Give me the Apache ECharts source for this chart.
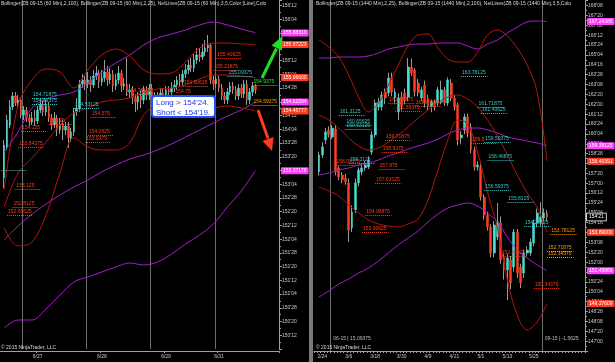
<!DOCTYPE html>
<html><head><meta charset="utf-8">
<script src="https://cdn.jsdelivr.net/npm/echarts@6/dist/echarts.min.js"></script>
<style>html,body{margin:0;padding:0;background:#000}#c{width:615px;height:362px}</style>
</head><body><div id="c"></div>
<script>
// ---------- LEFT PANEL (60 Min) ----------
const leftDateIdx = [13, 36, 59, 78];
const leftDateText = ['6/27', '6/28', '6/29', '6/31'];
const leftSessionIdx = [8, 31, 54, 77];
const leftOpen = [153.239,153.803,154.203,154.531,154.731,154.604,154.659,154.385,154.477,154.331,
154.258,154.331,154.276,154.477,154.586,154.440,154.549,154.331,154.203,154.331,
154.112,154.222,154.112,154.185,153.967,154.076,154.440,154.513,154.950,155.023,
154.950,155.023,154.932,155.095,155.150,154.986,155.059,155.168,155.023,155.132,
154.913,155.023,155.150,154.913,154.950,154.804,154.841,154.695,154.622,154.731,
154.659,154.841,154.749,154.877,154.713,154.622,154.731,154.786,154.713,154.841,
154.804,154.877,154.932,155.023,154.986,155.132,155.205,155.296,155.241,155.387,
155.478,155.441,155.532,155.605,155.660,155.023,154.950,155.041,154.877,154.731,
154.659,154.804,154.913,154.841,154.731,154.877,154.768,154.950,154.659,154.804,
154.913];
const leftClose = [153.839,154.294,154.531,154.731,154.604,154.659,154.385,154.477,154.331,154.258,
154.331,154.276,154.477,154.586,154.440,154.549,154.331,154.203,154.331,154.112,
154.222,154.112,154.185,153.967,154.076,154.440,154.513,154.950,155.023,154.950,
155.023,154.932,155.095,155.150,154.986,155.059,155.168,155.023,155.132,154.913,
155.023,155.150,154.913,154.950,154.804,154.841,154.695,154.622,154.731,154.659,
154.841,154.749,154.877,154.713,154.622,154.731,154.786,154.713,154.841,154.804,
154.877,154.932,155.023,154.986,155.132,155.205,155.296,155.241,155.387,155.478,
155.441,155.532,155.605,155.660,155.023,154.950,155.041,154.877,154.731,154.659,
154.804,154.913,154.841,154.731,154.877,154.768,154.950,154.659,154.804,154.913,
154.841];
const leftLow = [153.056,153.748,154.149,154.477,154.549,154.513,154.331,154.294,154.258,154.185,
154.203,154.185,154.222,154.422,154.367,154.367,154.258,154.112,154.149,154.003,
154.040,153.930,154.021,153.785,153.894,154.003,154.367,154.440,154.877,154.841,
154.877,154.804,154.877,155.023,154.877,154.913,154.986,154.913,154.950,154.804,
154.841,154.950,154.804,154.841,154.731,154.695,154.586,154.440,154.477,154.513,
154.586,154.659,154.659,154.622,154.513,154.549,154.659,154.622,154.659,154.731,
154.731,154.804,154.841,154.913,154.913,155.059,155.132,155.168,155.168,155.314,
155.350,155.387,155.460,155.532,154.950,154.841,154.877,154.804,154.659,154.586,
154.586,154.749,154.768,154.659,154.659,154.695,154.695,154.568,154.586,154.731,
154.768];
const leftHigh = [153.930,154.385,154.659,154.804,154.804,154.749,154.713,154.549,154.531,154.404,
154.440,154.477,154.549,154.695,154.659,154.659,154.622,154.404,154.440,154.385,
154.331,154.294,154.258,154.258,154.149,154.513,154.695,155.023,155.132,155.095,
155.168,155.095,155.205,155.278,155.205,155.205,155.387,155.278,155.241,155.205,
155.132,155.278,155.205,155.059,155.423,154.950,154.913,154.768,154.804,154.841,
154.913,154.913,154.950,154.950,154.804,154.804,154.877,154.877,154.913,154.913,
154.986,155.023,155.095,155.132,155.205,155.314,155.387,155.423,155.496,155.605,
155.605,155.678,155.750,155.842,155.696,155.095,155.132,155.095,154.950,154.804,
154.877,154.986,154.986,154.913,154.950,154.950,155.023,155.023,154.877,154.986,
154.950];
const leftBandIdx = [1,6,11,16,21,26,31,36,41,46,51,56,61,66,71,76,81,86,91];
const leftRedUpper = [153.020,154.567,155.023,155.223,155.168,154.877,155.205,155.478,155.587,155.460,155.205,155.132,155.150,155.350,155.605,155.696,155.696,155.678,155.672];
const leftRedMid = [152.711,153.330,153.603,153.894,154.203,154.422,154.513,154.622,154.659,154.695,154.804,154.859,154.877,154.932,155.041,155.114,155.114,155.095,155.066];
const leftRedLower = [152.328,152.001,152.073,152.565,153.330,153.967,153.803,153.748,153.748,153.876,154.385,154.567,154.586,154.513,154.477,154.513,154.549,154.513,154.458];
const leftPurpleUpper = [153.712,154.076,154.513,154.677,154.749,154.804,154.968,155.168,155.332,155.478,155.660,155.787,155.860,155.933,156.024,156.078,156.024,155.951,155.883];
const leftPurpleMid = [152.110,152.365,152.583,152.765,152.929,153.075,153.202,153.348,153.475,153.584,153.657,153.748,153.858,153.985,154.112,154.240,154.367,154.477,154.616];
const leftPurpleLower = [150.508,150.653,150.653,150.854,151.109,151.345,151.436,151.527,151.618,151.691,151.655,151.709,151.855,152.037,152.201,152.401,152.711,153.002,153.372];
const leftNetIdx = [11,11,26,7,17,32,31,30,6,5,4,2,45,65,62,77,76,81,90,90,0];
const leftNetPrice = [154.695,154.586,154.513,154.094,154.222,154.349,154.021,153.894,153.803,153.038,152.711,152.565,154.768,154.913,154.749,155.423,155.205,155.095,154.932,154.567,153.384];
const leftNetText = ['154.71875','154.59375','154.53125','154.125','154.25','154.375','154.0625','153.9375','153.84375','153.125','152.8125','152.65625','154.78125','154.90625','154.75','155.40625','155.21875','155.09375','154.9375','154.59375',''];
const leftNetColor = ['c','c','c','r','r','r','r','r','r','r','r','r','r','r','r','r','r','c','g','o','c'];
const leftTagValues = [155.88310,155.67223,155.06600,154.61594,154.45777,153.37178];
const leftTagColors = ['m','r','r','m','r','m'];

// ---------- RIGHT PANEL (1440 Min) ----------
const rightDateIdx = [2,10,18,26,34,42,50,58,66];
const rightDateText = ['2/24','3/6','3/18','3/30','4/9','4/21','5/1','5/13','5/25'];
const rightRollIdx = [5, 69];
const rightRollText = ['06-15 | 15.09375', '09-15 | -1.5625'];
const rightRollPrice = [147.14, 147.14];
const rightOpen = [157.71,158.80,159.74,160.37,159.93,160.44,157.97,157.52,157.33,157.02,
154.17,155.31,157.02,157.71,157.97,158.03,158.98,160.06,161.83,161.83,
162.78,162.72,163.67,162.40,161.51,162.46,162.72,162.46,164.36,164.17,
163.35,162.40,163.22,162.40,161.83,162.14,162.08,162.14,162.91,162.08,
163.35,162.40,161.96,159.87,160.37,161.20,160.56,159.11,158.03,158.03,
156.13,154.99,154.23,152.58,153.60,154.48,152.33,151.51,152.14,151.70,
153.91,151.70,151.32,152.58,152.58,153.22,154.48,154.55,154.80,155.12];
const rightClose = [158.79,159.30,160.25,160.06,160.50,157.71,157.40,157.21,157.08,154.04,
155.18,157.02,157.84,157.97,158.16,158.47,160.06,162.08,162.14,162.59,
162.40,163.67,162.78,162.78,162.40,161.96,162.27,164.36,163.98,162.78,
162.72,162.91,162.08,161.83,162.14,161.83,162.91,162.91,162.08,163.54,
162.40,161.83,159.74,160.06,161.20,160.18,159.11,158.03,158.16,156.13,
154.99,154.23,152.58,154.36,154.55,152.14,151.51,152.27,150.68,153.91,
151.32,150.68,152.58,152.77,153.28,154.48,155.12,154.86,155.12,154.86];
const rightLow = [157.50,158.60,159.50,159.90,159.80,157.50,157.20,157.00,156.90,153.28,
153.90,155.10,156.80,157.50,157.80,157.90,158.80,159.90,161.60,161.60,
162.00,162.50,162.50,162.00,161.00,161.60,162.00,162.20,163.80,162.50,
162.50,162.20,161.80,161.60,161.50,161.60,161.90,162.00,161.90,161.90,
162.20,161.60,159.40,159.50,160.10,159.90,158.90,157.80,157.80,155.90,
154.70,154.00,152.30,152.30,153.40,151.90,150.90,149.60,150.30,151.40,
151.00,150.36,151.00,152.40,152.40,153.00,154.20,154.30,154.50,154.60];
const rightHigh = [159.00,159.60,160.50,160.60,160.70,160.70,158.10,157.70,157.60,157.30,
155.60,157.30,158.00,158.20,158.40,158.70,160.30,162.30,162.40,162.80,
163.00,164.00,164.00,163.00,162.70,162.80,163.00,164.93,164.90,164.30,
163.60,163.10,163.50,162.60,162.30,162.30,163.10,163.50,163.10,163.70,
163.60,162.60,162.10,160.30,161.40,161.40,160.80,159.30,158.40,158.30,
156.30,155.20,154.40,154.60,155.75,154.90,152.50,152.50,152.40,154.10,
154.10,151.90,152.80,153.00,153.50,154.70,155.40,155.80,155.40,155.30];
const rightBandIdx = [1,4,7,10,13,16,19,22,25,28,31,34,37,40,43,46,49,52,55,58,61,64,67,70];
const rightRedUpper = [166.072,165.628,164.995,163.855,162.462,161.512,162.082,163.222,164.489,165.692,166.388,166.452,165.565,164.868,164.678,164.678,165.312,166.388,166.705,166.325,165.565,164.489,162.779,158.404];
const rightRedMid = [161.322,161.005,160.499,159.865,159.359,159.106,159.232,159.612,160.055,160.562,161.132,161.639,162.082,162.462,162.589,162.335,161.829,161.005,159.992,158.789,157.522,156.382,155.494,153.890];
const rightRedLower = [156.762,156.508,156.192,155.622,155.116,154.672,154.419,154.292,154.229,154.419,154.736,155.939,157.839,159.739,161.005,160.752,158.979,156.446,154.165,150.873,148.656,147.706,148.212,149.376];
const rightPurpleUpper = [164.932,164.932,164.995,164.995,164.995,165.058,165.248,165.502,165.628,165.755,165.818,165.818,165.882,165.882,165.882,165.692,165.502,165.818,166.072,166.515,166.895,167.212,167.275,167.244];
const rightPurpleMid = [157.522,157.649,157.839,157.965,158.155,158.282,158.472,158.725,158.916,159.169,159.359,159.549,159.802,160.119,160.372,160.499,160.499,160.372,160.182,159.929,159.802,159.675,159.549,159.381];
const rightPurpleLower = [149.796,150.176,150.619,150.936,151.316,151.632,152.075,152.582,153.089,153.532,153.975,154.546,155.052,155.431,155.622,155.749,155.559,155.116,154.546,153.595,152.772,152.265,151.822,151.459];
const rightNetIdx = [44,49,50,7,9,9,21,20,19,10,6,18,15,14,47,51,52,51,58,63,56,66,71,70,70,22,24,30];
const rightNetPrice = [163.792,161.829,161.449,161.322,160.689,160.436,159.739,158.979,157.902,158.282,158.155,157.016,154.989,153.912,159.549,159.612,158.472,156.572,155.812,154.292,152.392,150.366,153.786,152.709,152.329,162.082,161.575,161.892];
const rightNetText = ['163.78125','161.71875','161.40625','161.3125','160.65625','160.53125','159.71875','158.9375','157.875','158.3125','158.09375','157.03125','154.96875','153.90625','159.5','159.59375','158.46875','156.59375','155.8125','154.28125','152.40625','150.34375','153.78125','152.71875','152.34375','162.09375','161.59375','161.84375'];
const rightNetColor = ['c','c','c','c','c','c','r','r','r','c','r','r','r','r','r','c','c','c','c','c','r','r','o','o','o','r','r','r'];
const rightTagValues = [167.24385,159.38125,158.40391,153.89000,151.45866,149.37609];
const rightTagColors = ['m','m','r','r','m','r'];
const rightLastText = "154'21";

const leftHeader = 'Bollinger(ZB 09-15 (60 Min),2,100), Bollinger(ZB 09-15 (60 Min),2,25), NetLines(ZB 09-15 (60 Min),3,5,Color [Line],Colo';
const rightHeader = 'Bollinger(ZB 09-15 (1440 Min),2,25), Bollinger(ZB 09-15 (1440 Min),2,100), NetLines(ZB 09-15 (1440 Min),3,5,Colo';
const copyright = '\u00a9 2015 NinjaTrader, LLC';

// ---------- styles ----------
const UP = '#46dccf', DOWN = '#ff3d1f', WICK = '#9a9a9a', RED_BAND = '#b3160c', PURPLE = '#a420c8';
const COL = {c:'#3cc4c4', r:'#ff3b1f', g:'#2ee02e', o:'#ff9a00', m:'#ff3cff'};
const FONT = 'Liberation Sans';
const AXC = '#c8c8c8';
const CLEAR = 'rgba(0,0,0,0)';

function fmt32(v) {
  let w = Math.floor(v + 1e-9); let t = Math.round((v - w) * 32);
  if (t === 32) { w += 1; t = 0; }
  return w + "'" + (t < 10 ? '0' : '') + t;
}
function cats(n, idx, txt) { const a = new Array(n).fill(''); idx.forEach((k, i) => a[k] = txt[i]); return a; }
const leftBarIdx = leftOpen.map((_, i) => i + 1);
const rightBarIdx = rightOpen.map((_, i) => i + 1);

function wickSeries(ax, idx, o, c, l, h, w) {
  return { type:'candlestick', xAxisIndex:ax, yAxisIndex:ax, barWidth:w, silent:true,
    encode:{x:0, y:[1,2,3,4]},
    data: idx.map((x, i) => [x, o[i], c[i], l[i], h[i]]),
    itemStyle:{color:WICK, color0:WICK, borderColor:WICK, borderColor0:WICK, borderWidth:1}, z:2 };
}
function bodySeries(ax, idx, o, c, w) {
  return { type:'candlestick', xAxisIndex:ax, yAxisIndex:ax, barWidth:w, silent:true,
    encode:{x:0, y:[1,2,3,4]},
    data: idx.map((x, i) => [x, o[i], c[i], Math.min(o[i], c[i]), Math.max(o[i], c[i])]),
    itemStyle:{color:UP, color0:DOWN, borderColor:UP, borderColor0:DOWN, borderWidth:0.5}, z:3 };
}
function band(ax, idx, vals, color, extra) {
  return Object.assign({ type:'line', xAxisIndex:ax, yAxisIndex:ax, data: idx.map((x, i) => [x, vals[i]]),
    showSymbol:false, symbol:'none', smooth:0.35, silent:true, lineStyle:{color, width:1}, z:4 }, extra || {});
}
function netMarks(idx, price, text, color, span) {
  return { symbol:['none','none'], silent:true, animation:false,
    data: idx.map((x, i) => [
      { coord:[x, price[i]], lineStyle:{color:COL[color[i]], type:'dotted', width:1},
        label:{show:true, formatter:text[i], color:COL[color[i]], position:'insideStartTop', fontSize:5, distance:1, fontFamily:FONT} },
      { coord:[x + span, price[i]] }
    ]) };
}
function tagLabel(text, bg, extra) {
  return Object.assign({show:true, position:'end', formatter:text, backgroundColor:bg, color:'#fff',
    fontSize:5, fontFamily:FONT, padding:[1,2,1,2], distance:2, borderRadius:1}, extra || {});
}
function tagMarks(vals, colors, extra) {
  const d = vals.map((v, i) => ({ yAxis:v, lineStyle:{color:CLEAR, width:1},
    label: tagLabel(v.toFixed(5), COL[colors[i]]) }));
  return { symbol:['none','none'], silent:true, animation:false, lineStyle:{color:CLEAR, width:1, type:'solid'}, data: d.concat(extra || []) };
}

function xAxisCfg(grid, data, labelIdx, splitIdx, allTicks) {
  return { type:'category', gridIndex:grid, data, boundaryGap:true, offset: grid === 0 ? 2 : 0,
    axisLine:{show:true, lineStyle:{color:'#a0a0a0', width:1}},
    axisTick:{show:true, length:2, lineStyle:{color:'#a0a0a0'}, interval: allTicks ? 0 : ((i) => labelIdx.includes(i))},
    axisLabel:{interval:0, color:AXC, fontSize:5, fontFamily:FONT, margin:3},
    splitLine:{show:true, interval:(i) => splitIdx.includes(i), lineStyle:{color:'#6e6e6e', width:1}} };
}
function yAxisCfg(grid, min, max, interval) {
  return { type:'value', gridIndex:grid, position:'right', min, max, interval, scale:true,
    axisLine:{show:true, lineStyle:{color:'#a0a0a0', width:1}},
    axisTick:{show:true, length:3, lineStyle:{color:'#a0a0a0'}},
    minorTick:{show:true, splitNumber:2, length:2, lineStyle:{color:'#a0a0a0'}},
    axisLabel:{formatter:fmt32, color:AXC, fontSize:5, fontFamily:FONT, margin:3, showMinLabel:false, showMaxLabel:false},
    splitLine:{show:false} };
}

const lastRight = rightClose[rightClose.length - 1];
const lastTag = { yAxis:lastRight, lineStyle:{color:CLEAR, width:1},
  label: tagLabel(rightLastText, '#000', {borderColor:'#fff', borderWidth:0.8, borderRadius:0}) };

const titleStyle = {fontSize:5, color:'#d8d8d8', fontWeight:'normal', fontFamily:FONT};
const option = {
  backgroundColor:'#000',
  animation:false,
  title:[
    {text:leftHeader, left:1, top:1, padding:0, textStyle:Object.assign({width:277, overflow:'truncate', ellipsis:''}, titleStyle)},
    {text:rightHeader, left:316, top:1, padding:0, textStyle:Object.assign({width:266, overflow:'truncate', ellipsis:''}, titleStyle)},
    {text:copyright, left:1, top:345, padding:0, textStyle:titleStyle},
    {text:copyright, left:316, top:345, padding:0, textStyle:titleStyle}
  ],
  grid:[
    {left:0, top:0, width:279, height:349, outerBoundsMode:'none'},
    {left:314, top:0, width:271, height:351, outerBoundsMode:'none'}
  ],
  xAxis:[
    xAxisCfg(0, cats(100, leftDateIdx, leftDateText), leftDateIdx, leftSessionIdx, false),
    xAxisCfg(1, cats(82, rightDateIdx, rightDateText), rightDateIdx, rightRollIdx, true)
  ],
  yAxis:[
    yAxisCfg(0, 150.125, 156.479, 0.25),
    yAxisCfg(1, 146.375, 168.605, 0.625)
  ],
  graphic:[
    {type:'rect', shape:{x:309, y:0, width:4, height:362}, style:{fill:'#7a7a7a'}, z:1},
    {type:'rect', shape:{x:152, y:96, width:63, height:21, r:3}, style:{fill:'#ffffff', stroke:'#1f50ff', lineWidth:2}, z:50},
    {type:'text', x:156, y:98.5, style:{text:"Long > 154'24.\nShort < 154'19.", fill:'#1f33ee', fontSize:8, fontFamily:FONT, lineHeight:9.5}, z:51},
    {type:'polyline', shape:{points:[[262,78],[276.5,48.5]]}, style:{stroke:'#22dd22', lineWidth:3}, z:50},
    {type:'polygon', shape:{points:[[282.5,36],[282,50.5],[271.5,45.5]]}, style:{fill:'#22dd22'}, z:50},
    {type:'polyline', shape:{points:[[258,110],[268,138.5]]}, style:{stroke:'#ff3b1f', lineWidth:3}, z:50},
    {type:'polygon', shape:{points:[[272,151],[273.5,137],[262.5,141]]}, style:{fill:'#ff3b1f'}, z:50}
  ],
  series:[
    wickSeries(0, leftBarIdx, leftOpen, leftClose, leftLow, leftHigh, 1),
    bodySeries(0, leftBarIdx, leftOpen, leftClose, 2),
    band(0, leftBandIdx, leftPurpleUpper, PURPLE),
    band(0, leftBandIdx, leftPurpleMid, PURPLE),
    band(0, leftBandIdx, leftPurpleLower, PURPLE),
    band(0, leftBandIdx, leftRedUpper, RED_BAND, {markLine: netMarks(leftNetIdx, leftNetPrice, leftNetText, leftNetColor, 9)}),
    band(0, leftBandIdx, leftRedMid, RED_BAND, {markLine: tagMarks(leftTagValues, leftTagColors)}),
    band(0, leftBandIdx, leftRedLower, RED_BAND),

    wickSeries(1, rightBarIdx, rightOpen, rightClose, rightLow, rightHigh, 1),
    bodySeries(1, rightBarIdx, rightOpen, rightClose, 2.4),
    band(1, rightBandIdx, rightPurpleUpper, PURPLE),
    band(1, rightBandIdx, rightPurpleMid, PURPLE),
    band(1, rightBandIdx, rightPurpleLower, PURPLE),
    band(1, rightBandIdx, rightRedUpper, RED_BAND, {markLine: netMarks(rightNetIdx, rightNetPrice, rightNetText, rightNetColor, 8)}),
    band(1, rightBandIdx, rightRedMid, RED_BAND, {markLine: tagMarks(rightTagValues, rightTagColors, [lastTag])}),
    band(1, rightBandIdx, rightRedLower, RED_BAND),
    { type:'scatter', xAxisIndex:1, yAxisIndex:1, symbolSize:0, silent:true, z:6,
      data: rightRollIdx.map((x, i) => ({ value:[x, rightRollPrice[i]],
        label:{show:true, position:'right', distance:1, formatter:rightRollText[i], color:'#e0e0e0', fontSize:5, fontFamily:FONT} })) }
  ]
};
const chart = echarts.init(document.getElementById('c'), null, {renderer:'canvas'});
chart.setOption(option);
</script>
</body></html>
